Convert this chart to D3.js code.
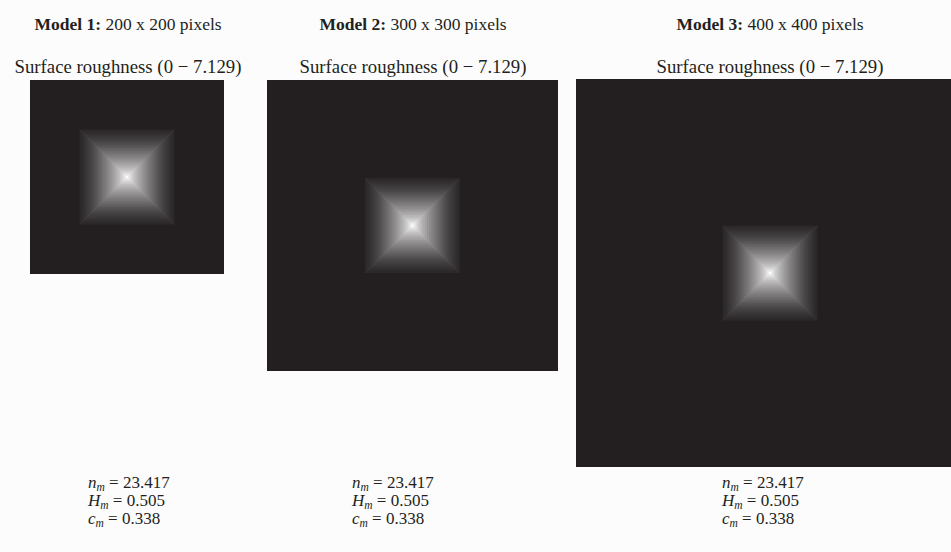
<!DOCTYPE html>
<html>
<head>
<meta charset="utf-8">
<script src="https://cdn.jsdelivr.net/npm/d3@7"></script>
<style>
  html, body { margin: 0; padding: 0; background: #fcfcfc; }
  svg { display: block; }
</style>
</head>
<body>
<svg id="chart" width="951" height="552"></svg>
<script>
// Model definitions
const modelNames = ["Model 1", "Model 2", "Model 3"];
const modelSizes = [200, 300, 400];            // grid size in pixels
const nValues = [23.417, 23.417, 23.417];
const hValues = [0.505, 0.505, 0.505];
const cValues = [0.338, 0.338, 0.338];
const roughnessRange = [0, 7.129];

// Pyramid asperity: half-width of each stepped ring (model pixels) and its height
const ringHalfWidths = [49, 47, 45, 43, 41, 39, 37, 35, 33, 31, 29, 27, 25,
                        23, 21, 19, 17, 15, 13, 11, 9, 7, 5, 3, 1];
const ringHeights = [0.30, 0.42, 0.56, 0.72, 0.88, 1.05, 1.25, 1.45, 1.70, 1.95, 2.20, 2.45, 2.70,
                     2.95, 3.20, 3.50, 3.80, 4.10, 4.40, 4.75, 5.10, 5.50, 5.95, 6.50, 7.129];

// Layout of the three panels
const panelX = [30, 267, 576];
const panelY = [80, 80, 79];
const titleCX = [128, 413, 770];
const statX = [88, 352, 722];
const pxScale = 0.97;
const FONT = "'Liberation Serif'";
const INK = "#231f20";

const svg = d3.select("#chart");
const gray = d3.scaleLinear().domain(roughnessRange).range(["#231f20", "#ffffff"]);

function label(g, x, y, size) {
  return g.append("text")
    .attr("x", x).attr("y", y)
    .style("font-family", FONT)
    .style("font-size", size + "px")
    .style("fill", INK);
}

modelSizes.forEach((size, i) => {
  const g = svg.append("g");

  // Title: bold model label followed by grid size
  const title = label(g, titleCX[i], 30, 17.5).attr("text-anchor", "middle");
  title.append("tspan").style("font-weight", "bold").text(modelNames[i] + ":");
  title.append("tspan").text(" " + size + " x " + size + " pixels");

  label(g, titleCX[i], 73, 18.8)
    .attr("text-anchor", "middle")
    .text("Surface roughness (" + roughnessRange[0] + " \u2212 " + roughnessRange[1] + ")");

  // Surface map
  const x = d3.scaleLinear().domain([0, size]).range([panelX[i], panelX[i] + size * pxScale]);
  const y = d3.scaleLinear().domain([0, size]).range([panelY[i], panelY[i] + size * pxScale]);
  const c = size / 2;

  g.append("rect")
    .attr("x", x(0)).attr("y", y(0))
    .attr("width", x(size) - x(0)).attr("height", y(size) - y(0))
    .attr("fill", gray(roughnessRange[0]));

  g.selectAll("rect.ring")
    .data(ringHalfWidths.map((hw, k) => ({ hw, h: ringHeights[k] })))
    .join("rect")
    .attr("class", "ring")
    .attr("x", d => x(c - d.hw)).attr("y", d => y(c - d.hw))
    .attr("width", d => x(c + d.hw) - x(c - d.hw))
    .attr("height", d => y(c + d.hw) - y(c - d.hw))
    .attr("fill", d => gray(d.h));

  // Faint creases along the pyramid edges
  const outer = ringHalfWidths[0];
  [[-1, -1], [1, -1], [1, 1], [-1, 1]].forEach(([sx, sy]) => {
    g.append("line")
      .attr("x1", x(c)).attr("y1", y(c))
      .attr("x2", x(c + sx * outer)).attr("y2", y(c + sy * outer))
      .attr("stroke", "#ffffff").attr("stroke-opacity", 0.02).attr("stroke-width", 2);
  });

  // Fitted parameters
  const stats = [["n", nValues[i].toFixed(3)], ["H", hValues[i].toFixed(3)], ["c", cValues[i].toFixed(3)]];
  stats.forEach(([sym, val], k) => {
    const t = label(g, statX[i], 488 + k * 18, 17);
    t.append("tspan").style("font-style", "italic").text(sym);
    t.append("tspan").style("font-style", "italic").style("font-size", "11.5px").attr("dy", 2.5).text("m");
    t.append("tspan").attr("dy", -2.5).text(" = " + val);
  });
});
</script>
</body>
</html>
